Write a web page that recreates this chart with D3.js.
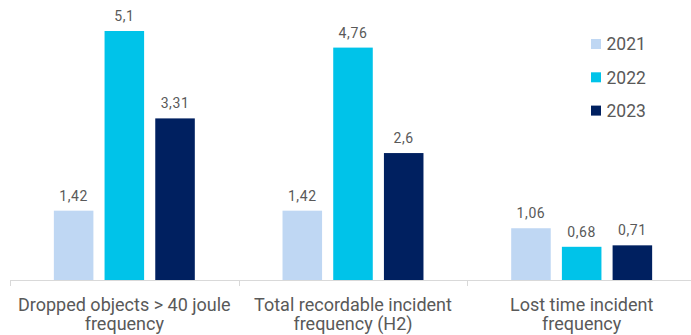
<!DOCTYPE html>
<html>
<head>
<meta charset="utf-8">
<script src="https://cdn.jsdelivr.net/npm/d3@7"></script>
<style>
  html, body { margin: 0; padding: 0; background: #fff; }
  svg { display: block; font-family: Roboto, sans-serif; }
</style>
</head>
<body>
<svg id="chart" width="691" height="335"></svg>
<script>
const categories = [
  ["Dropped objects > 40 joule", "frequency"],
  ["Total recordable incident", "frequency (H2)"],
  ["Lost time incident", "frequency"]
];
const seriesNames = ["2021", "2022", "2023"];
const values2021 = [1.42, 1.42, 1.06];
const values2022 = [5.1, 4.76, 0.68];
const values2023 = [3.31, 2.6, 0.71];
const valueLabels2021 = ["1,42", "1,42", "1,06"];
const valueLabels2022 = ["5,1", "4,76", "0,68"];
const valueLabels2023 = ["3,31", "2,6", "0,71"];
const colors = ["#bfd7f3", "#00c3e9", "#002060"];

const series = [
  { name: seriesNames[0], values: values2021, labels: valueLabels2021, color: colors[0] },
  { name: seriesNames[1], values: values2022, labels: valueLabels2022, color: colors[1] },
  { name: seriesNames[2], values: values2023, labels: valueLabels2023, color: colors[2] }
];

const svg = d3.select("#chart");
const catKeys = categories.map((c, i) => i);

const x0 = d3.scaleBand().domain(catKeys).range([10, 696]).padding(0);
const x1 = d3.scaleBand().domain(seriesNames).range([0, x0.bandwidth()])
  .paddingInner(0.22).paddingOuter(0.865);
const y = d3.scaleLinear().domain([0, 5.1]).range([280, 31]);

// axis
const axis = d3.axisBottom(x0).tickSize(0).tickFormat("");
const gAxis = svg.append("g").attr("transform", "translate(0,280)").call(axis);
gAxis.select(".domain").attr("stroke", "#d9d9d9").attr("stroke-width", 1);
// category boundary ticks
const boundaries = catKeys.map(k => x0(k)).concat([x0(catKeys[catKeys.length - 1]) + x0.bandwidth()]);
svg.append("g").selectAll("line").data(boundaries).join("line")
  .attr("x1", d => Math.round(d) + 0.5).attr("x2", d => Math.round(d) + 0.5)
  .attr("y1", 280).attr("y2", 286)
  .attr("stroke", "#d9d9d9").attr("stroke-width", 1);

// bars
const groups = svg.append("g").selectAll("g").data(catKeys).join("g")
  .attr("transform", k => `translate(${x0(k)},0)`);

series.forEach(s => {
  groups.append("rect")
    .attr("x", k => x1(s.name))
    .attr("width", x1.bandwidth())
    .attr("y", k => y(s.values[k]))
    .attr("height", k => y(0) - y(s.values[k]))
    .attr("fill", s.color);
  groups.append("text")
    .attr("x", k => x1(s.name) + x1.bandwidth() / 2)
    .attr("y", k => y(s.values[k]) - 10)
    .attr("text-anchor", "middle")
    .attr("font-size", 14)
    .attr("letter-spacing", 0.6)
    .attr("fill", "#595959")
    .text(k => s.labels[k]);
});

// category labels
const labels = svg.append("g").selectAll("text").data(catKeys).join("text")
  .attr("x", k => x0(k) + x0.bandwidth() / 2)
  .attr("y", 310.5)
  .attr("text-anchor", "middle")
  .attr("font-size", 18)
  .attr("fill", "#595959");
labels.each(function (k) {
  const t = d3.select(this);
  categories[k].forEach((line, i) => {
    t.append("tspan")
      .attr("x", x0(k) + x0.bandwidth() / 2)
      .attr("dy", i === 0 ? 0 : 19.5)
      .text(line);
  });
});

// legend
const legend = svg.append("g").attr("transform", "translate(591,44)");
const items = legend.selectAll("g").data(series).join("g")
  .attr("transform", (d, i) => `translate(0,${i * 33.3})`);
items.append("rect").attr("x", 0).attr("y", -5).attr("width", 10).attr("height", 10)
  .attr("fill", d => d.color);
items.append("text").attr("x", 15.5).attr("y", 6.3)
  .attr("font-size", 17.5).attr("fill", "#595959")
  .text(d => d.name);
</script>
</body>
</html>
